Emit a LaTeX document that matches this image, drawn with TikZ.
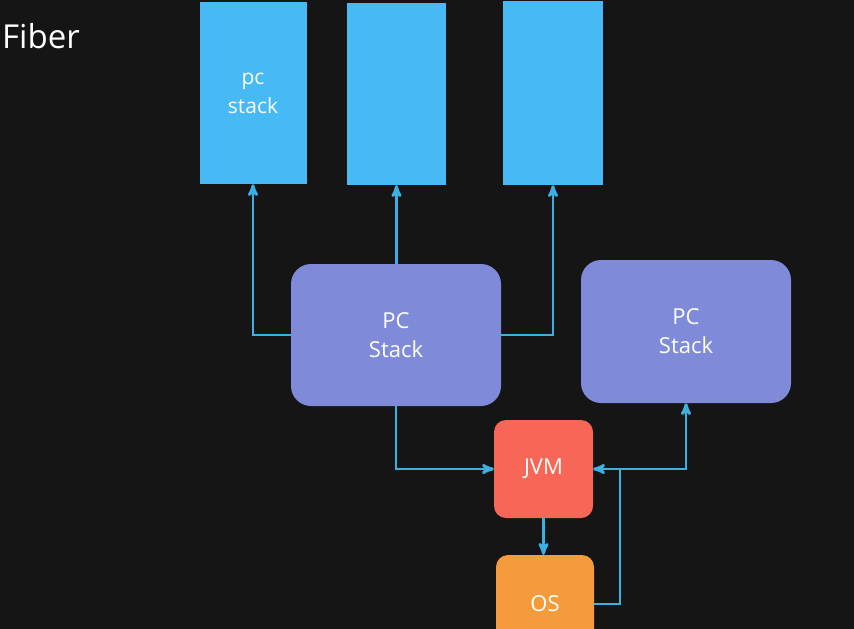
\documentclass[tikz,border=0pt]{standalone}
\usepackage{fontspec}
\setmainfont{Open Sans}
\usepackage{tikz}
\usetikzlibrary{positioning}
\usetikzlibrary{arrows}
\definecolor{board}{HTML}{151515}
\definecolor{stackblue}{HTML}{47B9F5}
\definecolor{pcpurple}{HTML}{7F8BD9}
\definecolor{jvmred}{HTML}{F76657}
\definecolor{osorange}{HTML}{F49C3B}
\definecolor{wire}{HTML}{3BB0E4}

\begin{document}
\begin{tikzpicture}[x=1pt,y=-1pt]
			\tikzstyle{StackStyle} = [fill = stackblue, inner sep = 0pt, text = white, align = center,
				font = \fontsize{21}{29}\selectfont]
			\tikzstyle{BoxStyle}   = [rounded corners = 20pt, inner sep = 0pt, text = white, align = center,
				font = \fontsize{22}{29}\selectfont]
			\tikzstyle{EdgeStyle}  = [->, >=stealth', draw = wire, line width = 2.8pt]
			\useasboundingbox (0,0) rectangle (854,629);
			\clip (0,0) rectangle (854,629);
			\fill[board] (0,0) rectangle (854,629);
			\node[anchor = base west, inner sep = 0pt, text = white, font = \fontsize{33}{33}\selectfont] (title) at (2,48) {Fiber};
			% top stacks
			\node[StackStyle, minimum width = 107pt, minimum height = 182pt] (s1) at (253,93) {pc\\stack};
			\node[StackStyle, minimum width = 99pt, minimum height = 182pt] (s2) at (396.5,94) {};
			\node[StackStyle, minimum width = 100pt, minimum height = 184pt] (s3) at (553,93) {};
			% threads
			\node[BoxStyle, fill = pcpurple, minimum width = 210pt, minimum height = 142pt] (pc1) at (396,335) {PC\\Stack};
			\node[BoxStyle, fill = pcpurple, minimum width = 210pt, minimum height = 143pt] (pc2) at (686,331.5) {PC\\Stack};
			\node[BoxStyle, rounded corners = 12pt, fill = jvmred, minimum width = 99pt, minimum height = 98pt] (jvm) at (543.5,469) {JVM};
			\node[BoxStyle, rounded corners = 12pt, fill = osorange, minimum width = 98pt, minimum height = 98pt] (os) at (545,604) {OS};
			\coordinate (hub) at (620,469);
			\draw[EdgeStyle] (pc1.west) -| (s1.south);
			\draw[EdgeStyle] (s2.south |- pc1.north) -- (s2.south);
			\draw[EdgeStyle] (pc1.east) -| (s3.south);
			\draw[EdgeStyle] (pc1.south) |- (jvm.west);
			\draw[EdgeStyle] (jvm.south) -- (jvm.south |- os.north);
			\draw[EdgeStyle] (os.east) -| (hub) -- (jvm.east);
			\draw[EdgeStyle] (hub) -| (pc2.south);
		\end{tikzpicture}
\end{document}
